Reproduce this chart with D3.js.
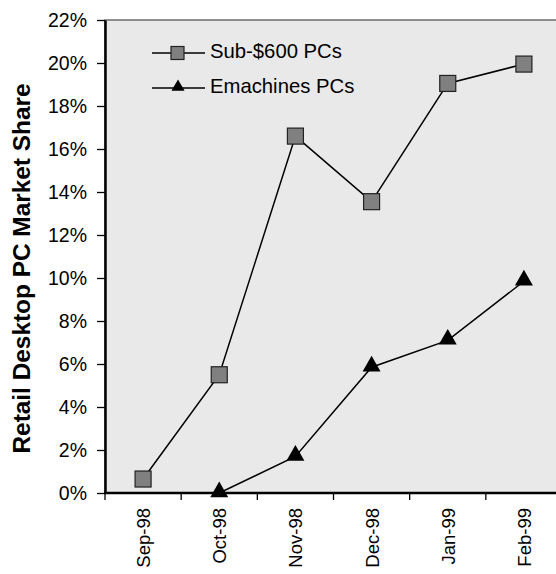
<!DOCTYPE html>
<html>
<head>
<meta charset="utf-8">
<script src="https://cdn.jsdelivr.net/npm/d3@7"></script>
<style>
  body { margin: 0; background: #fff; }
  svg { display: block; font-family: Arial, "Liberation Sans", sans-serif; }
</style>
</head>
<body>
<div id="chart"></div>
<script>
// retail desktop share, Sep-98 .. Feb-99
const months = ['Sep-98', 'Oct-98', 'Nov-98', 'Dec-98', 'Jan-99', 'Feb-99'];
const sub600 = [0.65, 5.5, 16.6, 13.55, 19.05, 19.95];
const emachines = [null, 0, 1.7, 5.85, 7.1, 9.85];
const yTicks = [0, 2, 4, 6, 8, 10, 12, 14, 16, 18, 20, 22];
const seriesNames = ['Sub-$600 PCs', 'Emachines PCs'];

const width = 556, height = 574;
const margin = { top: 20, right: -6, bottom: 81, left: 105 };
const FONT = 'Arial, "Liberation Sans", sans-serif';

const svg = d3.select('#chart')
  .append('svg')
  .attr('width', width)
  .attr('height', height);

const x = d3.scaleBand()
  .domain(months)
  .range([margin.left, width - margin.right]);

const y = d3.scaleLinear()
  .domain([0, 22])
  .range([height - margin.bottom, margin.top]);

// plot background
svg.append('rect')
  .attr('x', margin.left)
  .attr('y', margin.top)
  .attr('width', width - margin.right - margin.left)
  .attr('height', y(0) - margin.top)
  .attr('fill', '#e9e9e9')
  .attr('stroke', '#6e6e6e')
  .attr('stroke-width', 1.5);

// y axis
const yAxis = svg.append('g')
  .attr('transform', `translate(${margin.left},0)`)
  .call(d3.axisLeft(y).tickValues(yTicks).tickFormat(d => d + '%').tickSize(8).tickSizeOuter(0).tickPadding(10));
yAxis.select('.domain').attr('stroke', '#000').attr('stroke-width', 2.5);
yAxis.selectAll('.tick line').attr('stroke', '#000').attr('stroke-width', 1.3);
yAxis.selectAll('.tick text').attr('font-size', 19.5).attr('fill', '#000').attr('font-family', FONT);

// x axis: ticks sit between categories
const xAxis = svg.append('g')
  .attr('transform', `translate(0,${y(0)})`);
xAxis.append('line')
  .attr('x1', margin.left - 1).attr('x2', width)
  .attr('stroke', '#000').attr('stroke-width', 2.5);
xAxis.selectAll('line.tk')
  .data(months)
  .enter()
  .append('line')
  .attr('class', 'tk')
  .attr('x1', d => x(d)).attr('x2', d => x(d))
  .attr('y1', 0).attr('y2', 7)
  .attr('stroke', '#000').attr('stroke-width', 1.3);
xAxis.selectAll('text')
  .data(months)
  .enter()
  .append('text')
  .attr('transform', d => `translate(${x(d) + x.bandwidth() / 2 + 7},15) rotate(-90)`)
  .attr('text-anchor', 'end')
  .attr('font-size', 18.5)
  .text(d => d);

// y label
svg.append('text')
  .attr('transform', `translate(30,${(margin.top + y(0)) / 2 + 12}) rotate(-90)`)
  .attr('text-anchor', 'middle')
  .attr('font-size', 24.4)
  .attr('font-weight', 'bold')
  .text('Retail Desktop PC Market Share');

const cx = i => x(months[i]) + x.bandwidth() / 2;

const line = d3.line()
  .defined(d => d != null)
  .x((d, i) => cx(i))
  .y(d => y(d));

const tri = d3.symbol().type(d3.symbolTriangle).size(140);
const triSmall = d3.symbol().type(d3.symbolTriangle).size(75);

// Sub-$600 series
svg.append('path')
  .attr('d', line(sub600))
  .attr('fill', 'none').attr('stroke', '#000').attr('stroke-width', 1.5);
svg.selectAll('rect.sub')
  .data(sub600)
  .enter()
  .append('rect')
  .attr('class', 'sub')
  .attr('x', (d, i) => cx(i) - 8)
  .attr('y', d => y(d) - 8)
  .attr('width', 16).attr('height', 16)
  .attr('fill', '#808080').attr('stroke', '#222').attr('stroke-width', 1.2);

// Emachines series
svg.append('path')
  .attr('d', line(emachines))
  .attr('fill', 'none').attr('stroke', '#000').attr('stroke-width', 1.5);
svg.selectAll('path.em')
  .data(emachines.map((d, i) => ({ v: d, i })).filter(d => d.v != null))
  .enter()
  .append('path')
  .attr('class', 'em')
  .attr('d', tri)
  .attr('transform', d => `translate(${cx(d.i)},${y(d.v) - 1})`)
  .attr('fill', '#000');

// legend
const legend = svg.append('g').attr('font-size', 20.3);
seriesNames.forEach((name, k) => {
  const ly = 53 + k * 35;
  legend.append('line')
    .attr('x1', 152).attr('x2', 205).attr('y1', ly).attr('y2', ly)
    .attr('stroke', '#000').attr('stroke-width', 1.5);
  if (k === 0) {
    legend.append('rect')
      .attr('x', 171).attr('y', ly - 6.5).attr('width', 13).attr('height', 13)
      .attr('fill', '#808080').attr('stroke', '#222').attr('stroke-width', 1.2);
  } else {
    legend.append('path')
      .attr('d', triSmall)
      .attr('transform', `translate(178,${ly - 1})`)
      .attr('fill', '#000');
  }
  legend.append('text')
    .attr('x', 210).attr('y', ly + 4.5)
    .text(name);
});
</script>
</body>
</html>
